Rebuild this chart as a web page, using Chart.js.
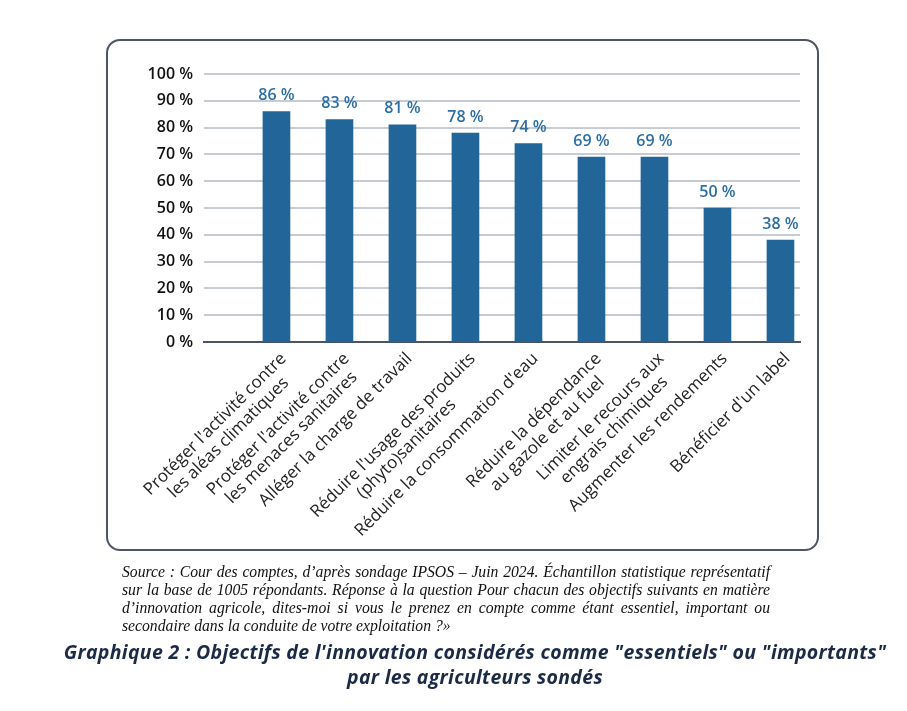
<!DOCTYPE html>
<html>
<head>
<meta charset="utf-8">
<script src="https://cdn.jsdelivr.net/npm/chart.js@4/dist/chart.umd.min.js"></script>
<style>
  html, body { margin:0; padding:0; background:#fff; }
  body { width:907px; height:711px; position:relative; overflow:hidden; }
  #box { position:absolute; left:106px; top:39px; width:713px; height:512px;
         border:2px solid #4f5565; border-radius:14px; box-sizing:border-box; }
  #wrap { position:absolute; left:0; top:0; width:907px; height:711px; }
  #source { position:absolute; left:122px; top:563px; width:648px;
            font-family:"Liberation Serif", serif; font-style:italic; font-size:15.7px;
            line-height:18px; color:#111; text-align:justify; }
  #caption { position:absolute; left:0px; top:639px; width:950px; text-align:center;
             font-family:"Open Sans", sans-serif; font-weight:700; font-style:italic;
             font-size:19.5px; line-height:25px; color:#1b2a45; letter-spacing:0.3px; }
</style>
</head>
<body>
<div id="box"></div>
<div id="wrap"><canvas id="c" width="907" height="711"></canvas></div>
<div id="source">Source : Cour des comptes, d’après sondage IPSOS – Juin 2024. Échantillon statistique représentatif sur la base de 1005 répondants. Réponse à la question Pour chacun des objectifs suivants en matière d’innovation agricole, dites-moi si vous le prenez en compte comme étant essentiel, important ou secondaire dans la conduite de votre exploitation ?»</div>
<div id="caption">Graphique 2 : Objectifs de l'innovation considérés comme "essentiels" ou "importants"<br>par les agriculteurs sondés</div>
<script>
const categories = [
  ["Protéger l'activité contre", "les aléas climatiques"],
  ["Protéger l'activité contre", "les menaces sanitaires"],
  ["Alléger la charge de travail"],
  ["Réduire l'usage des produits", "(phyto)sanitaires"],
  ["Réduire la consommation d'eau"],
  ["Réduire la dépendance", "au gazole et au fuel"],
  ["Limiter le recours aux", "engrais chimiques"],
  ["Augmenter les rendements"],
  ["Bénéficier d'un label"]
];
const values = [86, 83, 81, 78, 74, 69, 69, 50, 38];
const yTicks = [0, 10, 20, 30, 40, 50, 60, 70, 80, 90, 100];

const labelFont = '17px "Open Sans", "Noto Sans", sans-serif';

const customLabels = {
  id: 'customLabels',
  afterDatasetsDraw(chart) {
    const ctx = chart.ctx;
    const xs = chart.scales.x, ys = chart.scales.y;
    ctx.save();
    // value labels
    ctx.font = '600 16px "Open Sans", "Noto Sans", sans-serif';
    ctx.fillStyle = '#2c6ea3';
    ctx.textAlign = 'center';
    ctx.textBaseline = 'middle';
    values.forEach((v, i) => {
      ctx.fillText(v + ' %', xs.getPixelForValue(i), ys.getPixelForValue(v) - 16);
    });
    // category labels
    ctx.font = labelFont;
    ctx.fillStyle = '#222';
    const lh = 19;
    categories.forEach((lines, i) => {
      const x = xs.getPixelForValue(i) + 1;
      const y = ys.getPixelForValue(0) + 8;
      const widths = lines.map(l => ctx.measureText(l).width);
      const maxW = Math.max(...widths);
      ctx.save();
      ctx.translate(x, y);
      ctx.rotate(-Math.PI / 4);
      ctx.textAlign = 'center';
      ctx.textBaseline = 'top';
      lines.forEach((l, k) => {
        ctx.fillText(l, -maxW / 2, k * lh);
      });
      ctx.restore();
    });
    ctx.restore();
  }
};

new Chart(document.getElementById('c'), {
  type: 'bar',
  data: {
    datasets: [{
      data: values.map((v, i) => ({ x: i, y: v })),
      backgroundColor: '#226699',
      barThickness: 27
    }]
  },
  options: {
    responsive: false,
    animation: false,
    devicePixelRatio: 1,
    layout: { padding: { top: 74, right: 107, left: 0, bottom: 0 } },
    plugins: { legend: { display: false }, tooltip: { enabled: false } },
    scales: {
      x: {
        type: 'linear',
        min: -1.15,
        max: 8.31,
        offset: false,
        grid: { display: false },
        border: { display: true, color: '#4b5468', width: 2 },
        ticks: { display: false },
        afterFit(s) { s.height = 369; }
      },
      y: {
        min: 0, max: 100,
        afterBuildTicks(s) { s.ticks = yTicks.map(v => ({ value: v })); },
        grid: { color: '#c6cbd6', lineWidth: 2, drawTicks: false },
        border: { display: false },
        ticks: {
          padding: 11,
          color: '#111',
          font: { family: '"Open Sans", "Noto Sans", sans-serif', size: 16, weight: '600' },
          callback: v => v + ' %'
        },
        afterFit(s) { s.width = 204; }
      }
    }
  },
  plugins: [customLabels]
});
</script>
</body>
</html>
